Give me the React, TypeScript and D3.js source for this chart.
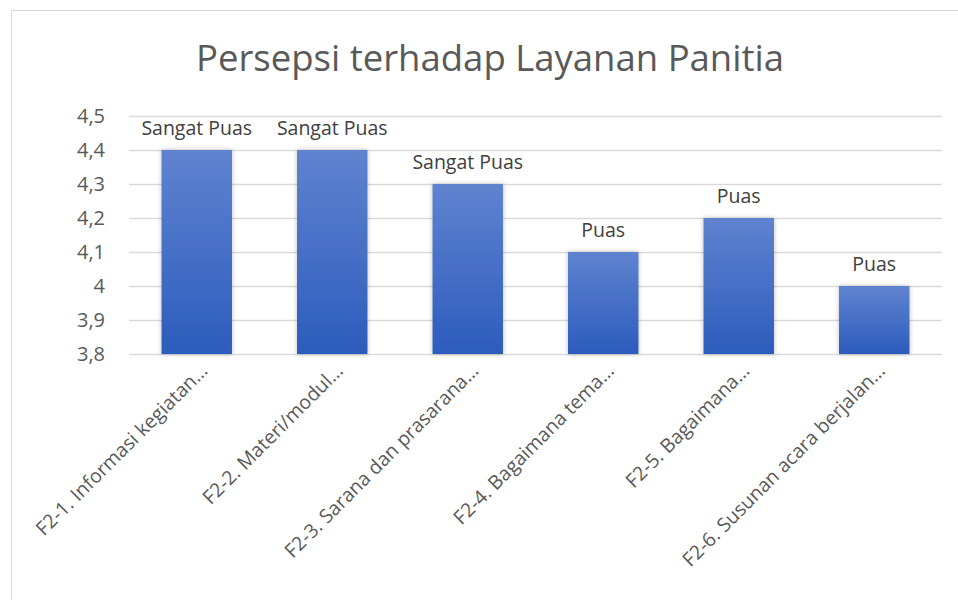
import React, { useEffect, useRef } from "react";
import * as d3 from "d3";

const categories = [
  "F2-1. Informasi kegiatan…",
  "F2-2. Materi/modul…",
  "F2-3. Sarana dan prasarana…",
  "F2-4. Bagaimana tema…",
  "F2-5. Bagaimana…",
  "F2-6. Susunan acara berjalan…",
];
const values = [4.4, 4.4, 4.3, 4.1, 4.2, 4.0];
const valueLabels = ["Sangat Puas", "Sangat Puas", "Sangat Puas", "Puas", "Puas", "Puas"];
const yTicks = [3.8, 3.9, 4.0, 4.1, 4.2, 4.3, 4.4, 4.5];

const FONT = "'Open Sans', 'DejaVu Sans', sans-serif";

export default function App() {
  const ref = useRef<SVGSVGElement>(null);

  useEffect(() => {
    const width = 958;
    const height = 600;
    const margin = { top: 116, right: 16, bottom: 246, left: 129 };
    const innerWidth = width - margin.left - margin.right;
    const innerHeight = height - margin.top - margin.bottom;

    const svg = d3.select(ref.current);
    svg.selectAll("*").remove();

    // gradient + shadow for bars
    const defs = svg.append("defs");
    const grad = defs.append("linearGradient")
      .attr("id", "barGrad")
      .attr("x1", 0).attr("y1", 0).attr("x2", 0).attr("y2", 1);
    grad.append("stop").attr("offset", "0%").attr("stop-color", "#5f83cf");
    grad.append("stop").attr("offset", "100%").attr("stop-color", "#2c5cbd");

    const shadow = defs.append("filter")
      .attr("id", "barShadow")
      .attr("x", "-20%").attr("y", "-10%").attr("width", "140%").attr("height", "120%");
    shadow.append("feDropShadow")
      .attr("dx", 0).attr("dy", 0).attr("stdDeviation", 2.5)
      .attr("flood-color", "#000").attr("flood-opacity", 0.25);

    // chart border
    svg.append("rect")
      .attr("x", 11.5).attr("y", 10.5)
      .attr("width", 960).attr("height", 600)
      .attr("fill", "#fff")
      .attr("stroke", "#d9d9d9");

    // title
    svg.append("text")
      .attr("x", 490)
      .attr("y", 71)
      .attr("text-anchor", "middle")
      .attr("font-family", FONT)
      .attr("font-size", "36.5px")
      .attr("fill", "#595959")
      .text("Persepsi terhadap Layanan Panitia");

    const g = svg.append("g").attr("transform", `translate(${margin.left}, ${margin.top})`);

    const xScale = d3.scaleBand<string>()
      .domain(categories)
      .range([0, innerWidth])
      .paddingInner(0.48)
      .paddingOuter(0.24);

    const yScale = d3.scaleLinear()
      .domain([3.8, 4.5])
      .range([innerHeight, 0]);

    // gridlines
    g.selectAll(".grid")
      .data(yTicks)
      .enter()
      .append("line")
      .attr("x1", 0)
      .attr("x2", innerWidth)
      .attr("y1", d => Math.round(yScale(d)) + 0.5)
      .attr("y2", d => Math.round(yScale(d)) + 0.5)
      .attr("stroke", "#d9d9d9")
      .attr("stroke-width", 1.3);

    // y tick labels
    const fmt = (d: number) => (Number.isInteger(d) ? String(d) : d.toFixed(1).replace(".", ","));
    g.selectAll(".ytick")
      .data(yTicks)
      .enter()
      .append("text")
      .attr("x", -24)
      .attr("y", d => yScale(d))
      .attr("dy", "0.35em")
      .attr("text-anchor", "end")
      .attr("font-family", FONT)
      .attr("font-size", "20px")
      .attr("fill", "#595959")
      .text(d => fmt(d));

    // bars
    g.selectAll(".bar")
      .data(values)
      .enter()
      .append("rect")
      .attr("x", (d, i) => xScale(categories[i])!)
      .attr("y", d => yScale(d))
      .attr("width", xScale.bandwidth())
      .attr("height", d => innerHeight - yScale(d))
      .attr("fill", "url(#barGrad)")
      .attr("filter", "url(#barShadow)");

    // value labels
    g.selectAll(".vlabel")
      .data(values)
      .enter()
      .append("text")
      .attr("x", (d, i) => xScale(categories[i])! + xScale.bandwidth() / 2)
      .attr("y", d => yScale(d) - 15)
      .attr("text-anchor", "middle")
      .attr("font-family", FONT)
      .attr("font-size", "19.5px")
      .attr("fill", "#404040")
      .text((d, i) => valueLabels[i]);

    // category labels, rotated
    g.selectAll(".xlabel")
      .data(categories)
      .enter()
      .append("text")
      .attr("transform", d => {
        const cx = xScale(d)! + xScale.bandwidth() / 2 + 12;
        return `translate(${cx}, ${innerHeight + 18}) rotate(-45)`;
      })
      .attr("text-anchor", "end")
      .attr("font-family", FONT)
      .attr("font-size", "19.5px")
      .attr("fill", "#595959")
      .text(d => d);
  }, []);

  return (
    <svg
      ref={ref}
      width={958}
      height={600}
      style={{ position: "absolute", left: 0, top: 0, display: "block" }}
    />
  );
}
